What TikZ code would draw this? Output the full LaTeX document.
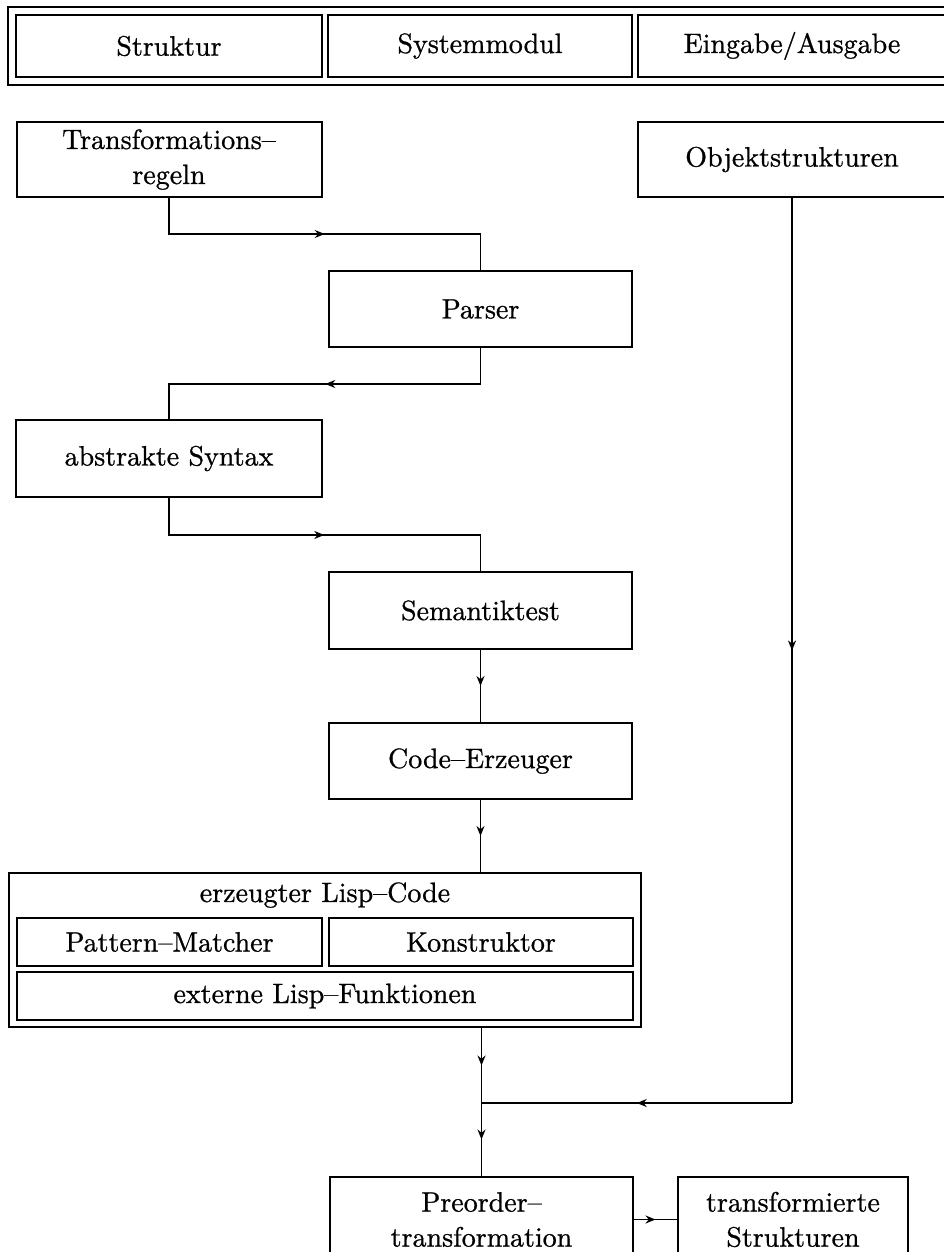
\documentclass[tikz,border=0pt]{standalone}
\usepackage{fontspec}
\setmainfont{lmroman10-regular.otf}[FakeBold=0.8]
\usetikzlibrary{arrows.meta,decorations.markings}
\begin{document}
\begin{tikzpicture}[x=1pt, y=-1pt,
		box/.style = {draw, line width=2pt, inner sep=0pt, align=center,
			font=\fontsize{28}{35}\selectfont},
		flow/.style = {line width=1.7pt, postaction={decorate},
			decoration={markings, mark=at position 0.5 with {\arrow{Stealth[length=10pt,width=8pt]}}}}]
		\useasboundingbox (0,0) rectangle (944,1252);
		\clip (0,0) rectangle (944,1252);
		% Systemmodule
		\node[box, minimum width=952, minimum height=78] (modul) at (484,46) {};
		\node[box, minimum width=306, minimum height=62] (struktur) at (169,46) {Struktur};
		\node[box, minimum width=304, minimum height=62] (system) at (480,46) {Systemmodul};
		\node[box, minimum width=308, minimum height=62] (io) at (792,46) {Eingabe/Ausgabe};
		% Eingaben
		\node[box, minimum width=305, minimum height=75] (regeln) at (169,159.5) {Transformations--\\regeln};
		\node[box, minimum width=308, minimum height=75] (objekt) at (792,159.5) {Objektstrukturen};
		% Compiler
		\node[box, minimum width=303, minimum height=76] (parser) at (480.5,309) {Parser};
		\node[box, minimum width=306, minimum height=77] (syntax) at (169,458.5) {abstrakte Syntax};
		\node[box, minimum width=303, minimum height=77] (semantik) at (480.5,610.5) {Semantiktest};
		\node[box, minimum width=303, minimum height=76] (code) at (480.5,761) {Code--Erzeuger};
		% erzeugter Code
		\node[box, minimum width=632, minimum height=154] (lisp) at (325,950) {};
		\node[font=\fontsize{28}{35}\selectfont] (lisptitel) at (325,895) {erzeugter Lisp--Code};
		\node[box, minimum width=305, minimum height=48] (matcher) at (169.5,942) {Pattern--Matcher};
		\node[box, minimum width=304, minimum height=48] (konstruktor) at (481,942) {Konstruktor};
		\node[box, minimum width=616, minimum height=48] (extern) at (325,996) {externe Lisp--Funktionen};
		% Transformation
		\node[box, minimum width=303, minimum height=85] (preorder) at (481.5,1219.5) {Preorder--\\transformation};
		\node[box, minimum width=230, minimum height=85] (ergebnis) at (793,1219.5) {transformierte\\Strukturen};
		\coordinate (ecke) at (792,1103);
		\coordinate (knoten) at (481.5,1103);
		\draw[flow] (regeln.south) -- ++(0,36) -| (parser.north);
		\draw[flow] (parser.south) -- ++(0,36) -| (syntax.north);
		\draw[flow] (syntax.south) -- ++(0,37) -| (semantik.north);
		\draw[flow] (semantik) -- (code);
		\draw[flow] (code.south) -- (code.south |- lisp.north);
		\draw[flow] (knoten |- lisp.south) -- (knoten);
		\draw[flow] (objekt.south) -- (ecke);
		\draw[flow] (ecke) -- (knoten);
		\draw[flow] (knoten) -- (preorder.north);
		\draw[flow] (preorder) -- (ergebnis);
	\end{tikzpicture}
\end{document}
